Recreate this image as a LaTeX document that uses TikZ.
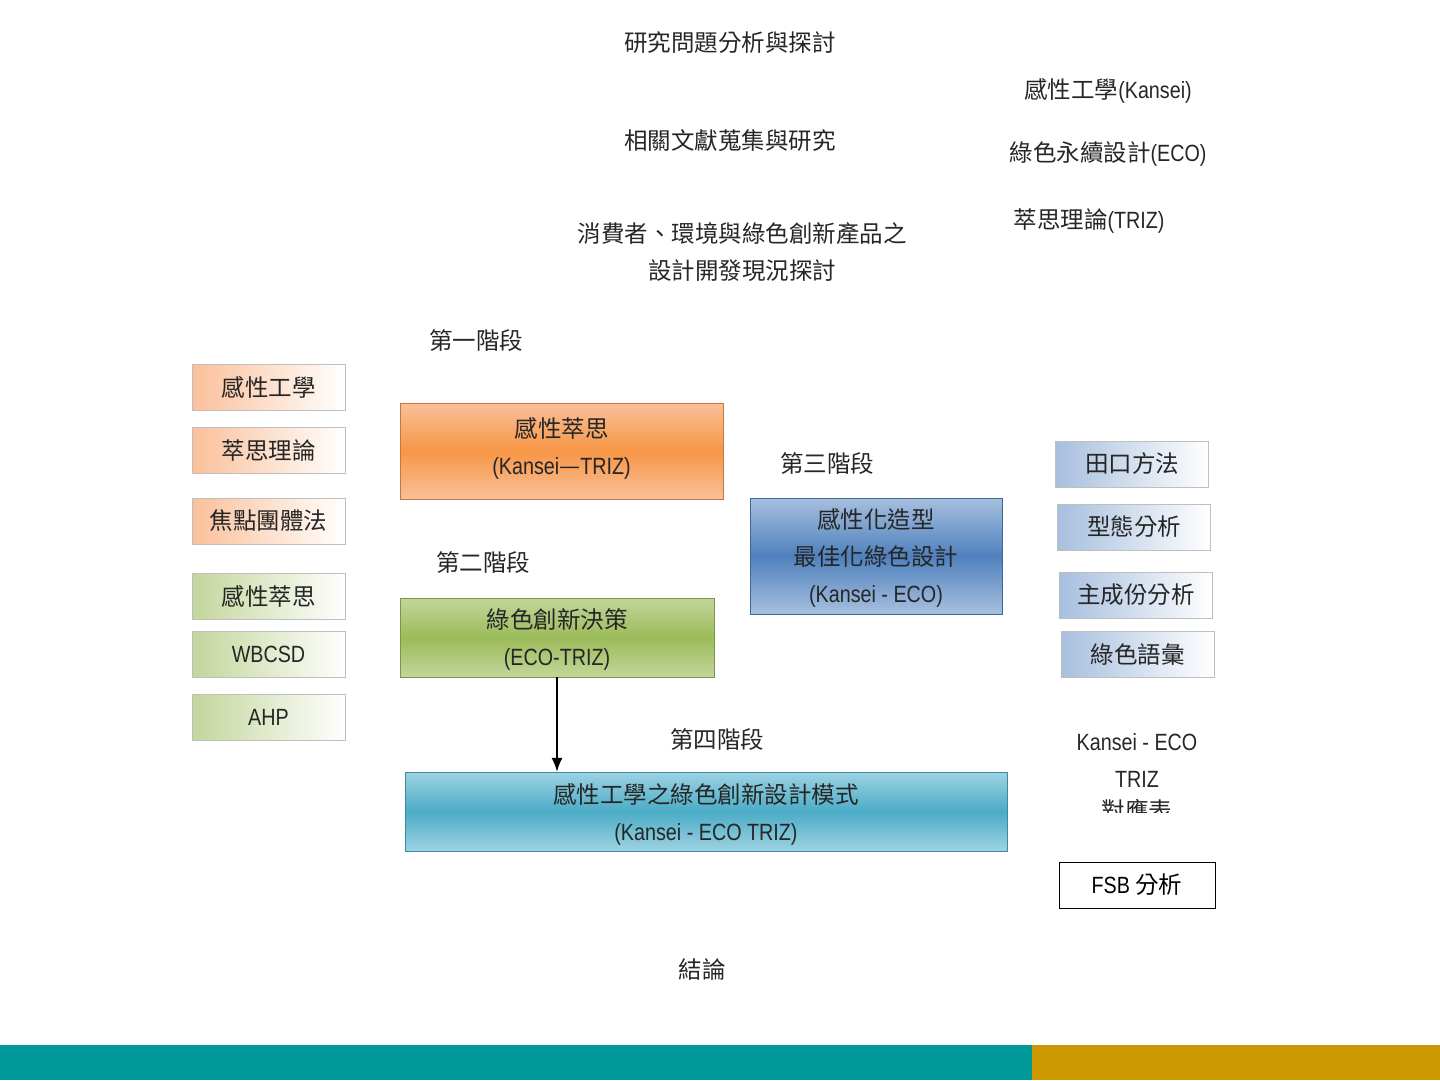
\documentclass[tikz,border=0pt]{standalone}
\usepackage{fontspec}
\setmainfont{Noto Sans CJK TC}
\newfontfamily\latf{Liberation Sans}[FakeStretch=0.84]
\usetikzlibrary{arrows.meta, positioning}
\definecolor{orgA}{HTML}{F79646}
\definecolor{orgB}{HTML}{FAC09A}
\definecolor{grnA}{HTML}{9BBB59}
\definecolor{grnB}{HTML}{C3D69B}
\definecolor{bluA}{HTML}{4F81BD}
\definecolor{bluB}{HTML}{A7BFDE}
\definecolor{cynA}{HTML}{4BACC6}
\definecolor{cynB}{HTML}{9DD3E2}
\definecolor{barteal}{HTML}{009999}
\definecolor{bargold}{HTML}{CC9900}
\newcommand{\txt}{\fontsize{23.5}{37}\selectfont}
\newcommand{\en}[1]{{\latf #1}}
\tikzset{
  lbl/.style     ={font=\txt, text=black!85, align=center, inner sep=0pt},
  bigbox/.style  ={draw=#1A!80!black, line width=0.5pt, top color=#1B, bottom color=#1B, middle color=#1A,
                   font=\txt, align=center, inner sep=0pt, text=black!85, text depth=-5pt},
  tool/.style    ={draw=black!25, line width=0.5pt, minimum width=153pt, minimum height=46pt, inner sep=0pt,
                   shading angle=#1, font=\txt, text=black!85},
  orgtool/.style ={tool=-60, left color=orgB, right color=white},
  grntool/.style ={tool=-60, left color=grnB, right color=white},
  blutool/.style ={tool=60, left color=bluB, right color=white},
  flow/.style    ={-{Latex[length=14pt, width=11pt]}, line width=1.5pt},
}
\begin{document}
\begin{tikzpicture}[x=1pt, y=-1pt]
  \useasboundingbox (0,0) rectangle (1440,1080);

  % --- research steps ---
  \node[lbl] (probl) at (730,43)  {研究問題分析與探討};
  \node[lbl] (liter) at (730,141) {相關文獻蒐集與研究};
  \node[lbl] (curr)  at (742,252) {消費者、環境與綠色創新產品之\\設計開發現況探討};
  \node[lbl] (kansei) at (1108,91)  {感性工學\en{(Kansei)}};
  \node[lbl] (ecod)   at (1108,154) {綠色永續設計\en{(ECO)}};
  \node[lbl] (triz)   at (1089,221) {萃思理論\en{(TRIZ)}};

  % --- stage 1 ---
  \node[lbl] (stg1) at (476,341) {第一階段};
  \node[bigbox=org, minimum width=323pt, minimum height=96pt, text depth=9pt] (kantriz) at (561.5,451)
       {感性萃思\\\en{(Kansei}—\en{TRIZ)}};
  \node[orgtool] (t1) at (268.5,387.5) {感性工學};
  \node[orgtool] (t2) at (268.5,450.5) {萃思理論};
  \node[orgtool] (t3) at (268.5,521)   {焦點團體法};

  % --- stage 2 ---
  \node[lbl] (stg2) at (483,563) {第二階段};
  \node[bigbox=grn, minimum width=314pt, minimum height=79pt] (ecotriz) at (557,637.5)
       {綠色創新決策\\\en{(ECO-TRIZ)}};
  \node[grntool] (t4) at (268.5,596.5) {感性萃思};
  \node[grntool] (t5) at (268.5,654)   {\en{WBCSD}};
  \node[grntool] (t6) at (268.5,717.5) {\en{AHP}};

  % --- stage 3 ---
  \node[lbl] (stg3) at (827,464) {第三階段};
  \node[bigbox=blu, minimum width=252pt, minimum height=116pt] (kaneco) at (876,556)
       {感性化造型\\最佳化綠色設計\\\en{(Kansei - ECO)}};
  \node[blutool] (t7)  at (1132,464)   {田口方法};
  \node[blutool] (t8)  at (1134,527)   {型態分析};
  \node[blutool] (t9)  at (1136,595)   {主成份分析};
  \node[blutool] (t10) at (1137.5,654.5) {綠色語彙};

  % --- stage 4 ---
  \node[lbl] (stg4) at (717,740) {第四階段};
  \node[bigbox=cyn, minimum width=602pt, minimum height=79pt] (model) at (706,811.5)
       {感性工學之綠色創新設計模式\\\en{(Kansei - ECO TRIZ)}};
  \draw[flow] (ecotriz) -- (ecotriz |- model.north);
  \node[lbl] (table) at (1137,760) {\en{Kansei - ECO}\\\en{TRIZ}};
  \begin{scope}
    \clip (1040,795) rectangle (1240,812);
    \node[lbl] (tablec) at (1137,810) {對應表};
  \end{scope}
  \node[draw, line width=1pt, minimum width=156pt, minimum height=46pt, font=\txt, inner sep=0pt] (fsb)
       at (1137,885) {\en{FSB} 分析};

  % --- end ---
  \node[lbl] (concl) at (702,970) {結論};
  \fill[barteal] (0,1045) rectangle (1032,1080);
  \fill[bargold] (1032,1045) rectangle (1440,1080);
\end{tikzpicture}
\end{document}
